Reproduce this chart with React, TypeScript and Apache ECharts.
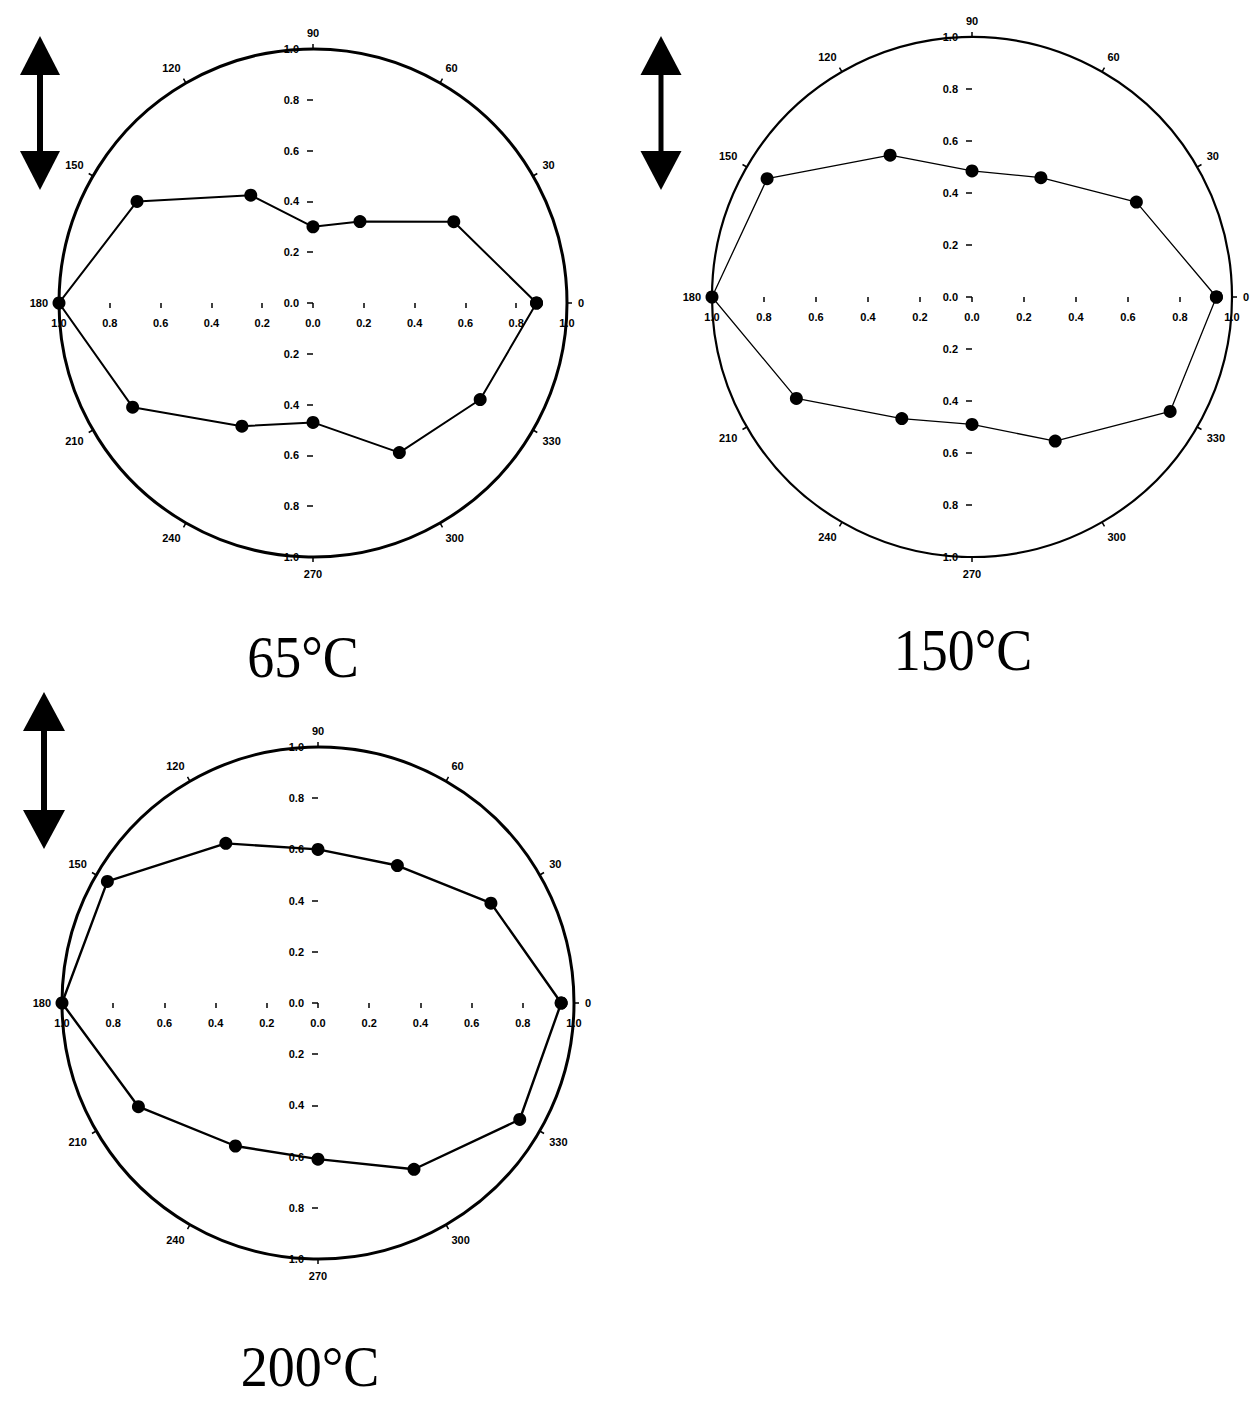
import React, { useEffect, useRef } from "react";
import * as echarts from "echarts";

// Measurement angles (degrees)
const angles = [0, 30, 60, 90, 120, 150, 180, 210, 240, 270, 300, 330];
// Normalised intensity at each angle
const r65 = [0.88, 0.64, 0.37, 0.3, 0.49, 0.8, 1.0, 0.82, 0.56, 0.47, 0.68, 0.76];
const r150 = [0.94, 0.73, 0.53, 0.485, 0.63, 0.91, 1.0, 0.78, 0.54, 0.49, 0.64, 0.88];
const r200 = [0.95, 0.78, 0.62, 0.6, 0.72, 0.95, 1.0, 0.81, 0.645, 0.61, 0.75, 0.91];
const titles = ["65°C", "150°C", "200°C"];
const angleTickStep = 30;
const radialTickStep = 0.2;

const panels = [
  { cx: 313, cy: 303, R: 254, data: r65, lw: 2, cw: 3, title: titles[0], tx: 303, ty: 657, sy: 1.1, ax: 40, aTop: 36, aBot: 190, hw: 20, head: 39, sw: 6 },
  { cx: 972, cy: 297, R: 260, data: r150, lw: 1.3, cw: 2.2, title: titles[1], tx: 963, ty: 650, sy: 1.1, ax: 661, aTop: 36, aBot: 190, hw: 20.5, head: 39, sw: 5 },
  { cx: 318, cy: 1003, R: 256, data: r200, lw: 2.4, cw: 3, title: titles[2], tx: 310, ty: 1367, sy: 1.04, ax: 44, aTop: 692, aBot: 849, hw: 21, head: 39, sw: 6 },
];

const labelFont = {
  color: "#000",
  fontSize: 11,
  fontWeight: "bold" as const,
  fontFamily: "Liberation Sans, Arial, sans-serif",
};

export default function App() {
  const ref = useRef<HTMLDivElement>(null);
  useEffect(() => {
    if (!ref.current) return;
    const chart = echarts.init(ref.current, undefined, { renderer: "svg" });
    const fmt = (v: number) => Math.abs(v).toFixed(1);
    const graphic: any[] = [];
    panels.forEach((p) => {
      graphic.push({
        type: "text",
        x: p.tx,
        y: p.ty,
        scaleY: p.sy,
        style: {
          text: p.title,
          font: '54px "Liberation Serif", "Times New Roman", serif',
          lineHeight: 40,
          fill: "#000",
          textAlign: "center",
          textVerticalAlign: "middle",
          align: "center",
          verticalAlign: "middle",
        },
      });
      graphic.push({
        type: "polygon",
        shape: { points: [[p.ax, p.aTop], [p.ax - p.hw, p.aTop + p.head], [p.ax + p.hw, p.aTop + p.head]] },
        style: { fill: "#000" },
      });
      graphic.push({
        type: "polygon",
        shape: { points: [[p.ax, p.aBot], [p.ax - p.hw, p.aBot - p.head], [p.ax + p.hw, p.aBot - p.head]] },
        style: { fill: "#000" },
      });
      graphic.push({
        type: "rect",
        shape: { x: p.ax - p.sw / 2, y: p.aTop + p.head - 1, width: p.sw, height: p.aBot - p.aTop - 2 * p.head + 2 },
        style: { fill: "#000" },
      });
    });

    const option: any = {
      animation: false,
      backgroundColor: "#fff",
      polar: panels.map((p) => ({ center: [p.cx, p.cy], radius: p.R })),
      angleAxis: panels.map((p, i) => ({
        polarIndex: i,
        type: "value",
        min: 0,
        max: 360,
        interval: angleTickStep,
        startAngle: 0,
        clockwise: false,
        axisLine: { show: true, lineStyle: { color: "#000", width: p.cw } },
        axisTick: { show: true, inside: false, length: 5, lineStyle: { color: "#000", width: 1.5 } },
        axisLabel: { ...labelFont, margin: 11, formatter: (v: number) => String(v) },
        splitLine: { show: false },
      })),
      radiusAxis: panels.map((p, i) => ({
        polarIndex: i,
        type: "value",
        min: 0,
        max: 1,
        show: false,
        splitLine: { show: false },
      })),
      grid: panels.map((p) => ({ left: p.cx - p.R, top: p.cy - p.R, width: 2 * p.R, height: 2 * p.R })),
      xAxis: panels.map((p, i) => ({
        gridIndex: i,
        type: "value",
        position: "bottom",
        offset: -p.R,
        min: -1,
        max: 1,
        interval: radialTickStep,
        axisLine: { show: false, onZero: false },
        axisTick: { show: true, length: 5, lineStyle: { color: "#000", width: 1.5 } },
        axisLabel: { ...labelFont, margin: 14, formatter: fmt },
        splitLine: { show: false },
      })),
      yAxis: panels.map((p, i) => ({
        gridIndex: i,
        type: "value",
        position: "left",
        offset: -p.R,
        min: -1,
        max: 1,
        interval: radialTickStep,
        axisLine: { show: false, onZero: false },
        axisTick: { show: true, length: 6, lineStyle: { color: "#000", width: 1.5 } },
        axisLabel: { ...labelFont, margin: 14, formatter: fmt },
        splitLine: { show: false },
      })),
      series: panels.map((p, i) => {
        const pts = angles.map((a, k) => [p.data[k], a]);
        pts.push([p.data[0], angles[0]]);
        return {
          type: "line",
          coordinateSystem: "polar",
          polarIndex: i,
          data: pts,
          symbol: "circle",
          symbolSize: 13,
          itemStyle: { color: "#000" },
          lineStyle: { color: "#000", width: p.lw },
          z: 5,
        };
      }),
      graphic,
    };
    chart.setOption(option);
    return () => chart.dispose();
  }, []);
  return (
    <div
      ref={ref}
      style={{ position: "absolute", left: 0, top: 0, width: 1255, height: 1401, background: "#fff" }}
    />
  );
}
